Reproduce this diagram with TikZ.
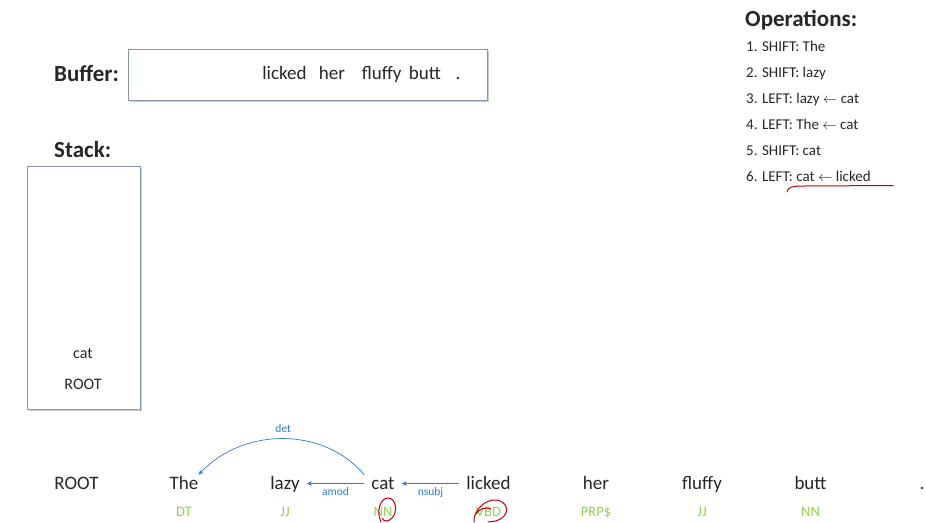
\documentclass[tikz,border=0pt]{standalone}
\usepackage{fontspec}
\setmainfont{Carlito}
\usepackage{tikz}
\usetikzlibrary{arrows.meta,positioning,shadows}
\definecolor{inktext}{HTML}{262626}
\definecolor{arcblue}{HTML}{2E7BCF}
\definecolor{taggreen}{HTML}{92D050}
\definecolor{boxline}{HTML}{8497B0}
\definecolor{penred}{HTML}{C00000}

\begin{document}
\begin{tikzpicture}[x=1pt, y=-1pt,
	every node/.style={inner sep=0pt, text=inktext},
	heading/.style={anchor=base west, font=\bfseries\fontsize{23}{27}\selectfont},
	panel/.style={draw=boxline, fill=white, line width=0.8pt, anchor=north west,
		drop shadow={shadow xshift=1.5pt, shadow yshift=-1.5pt, opacity=.35, fill=black!60}},
	bufword/.style={anchor=base, font=\fontsize{19}{22}\selectfont},
	stackword/.style={anchor=base, font=\fontsize{16}{19}\selectfont},
	opline/.style={anchor=base west, font=\fontsize{15}{18}\selectfont},
	word/.style={anchor=base, font=\fontsize{19}{22}\selectfont,
		text height=14pt, text depth=3pt, inner xsep=7pt, inner ysep=0pt},
	tag/.style={anchor=base, font=\fontsize{14.5}{17}\selectfont, text=taggreen},
	arclabel/.style={font=\fontsize{11.5}{13}\selectfont, text=arcblue,
		text height=8pt, text depth=2pt},
	dep/.style={arcblue, line width=0.7pt, -{Stealth[length=5pt, width=4.5pt]}},
	pen/.style={penred, line width=1pt, line cap=round}]
	\useasboundingbox (0,0) rectangle (926,522);

	% buffer
	\node[heading] (bufferlabel) at (54,81) {Buffer:};
	\node[panel, minimum width=359pt, minimum height=51pt] (buffer) at (128,49) {};
	\foreach \w/\x [count=\i] in {licked/284.5, her/332, fluffy/381.7, butt/425, ./458}
		\node[bufword] (buf\i) at (\x,79) {\w};

	% stack
	\node[heading] (stacklabel) at (54,157) {Stack:};
	\node[panel, minimum width=113pt, minimum height=243pt] (stack) at (27,166) {};
	\node[stackword] (stackcat) at (83,358) {cat};
	\node[stackword] (stackroot) at (83,389) {ROOT};

	% operations
	\node[heading] (opslabel) at (745,26) {Operations:};
	\foreach \op [count=\i] in {SHIFT: The, SHIFT: lazy, LEFT: lazy $\leftarrow$ cat,
			LEFT: The $\leftarrow$ cat, SHIFT: cat, LEFT: cat $\leftarrow$ licked}
		\node[opline] (op\i) at (746,25+26*\i) {\i. \op};

	% sentence and tags
	\foreach \n/\w/\x in {root/ROOT/76.5, the/The/184, lazy/lazy/285, cat/cat/383,
			licked/licked/488.5, her/her/596, fluffy/fluffy/702, butt/butt/810.5, stop/./922}
		\node[word] (\n) at (\x,489) {\w};
	\foreach \n/\t in {the/DT, lazy/JJ, cat/NN, licked/VBD, her/PRP\$, fluffy/JJ, butt/NN}
		\node[tag] (tag-\n) at (\n.base |- 0,516) {\t};

	% arcs
	\draw[dep] (cat.north west) .. controls +(-40,-48) and +(45,-48) .. ([xshift=-7pt]the.north east)
		node[arclabel, pos=.5, above=4pt] (detlabel) {det};
	\draw[dep] (cat.west) -- (lazy.east) node[arclabel, midway, below=4pt] (amodlabel) {amod};
	\draw[dep] (licked.west) -- (cat.east) node[arclabel, midway, below=4pt] (nsubjlabel) {nsubj};

	% pen marks
	\draw[pen] (787,192) .. controls (788,187) and (792,186) .. (805,186) -- (893,185.5);
	\draw[pen] (381,522) .. controls (376,512) and (380,498) .. (388,498)
		.. controls (396,498) and (398,512) .. (392,518) .. controls (388,522) and (384,522) .. (382,518);
	\draw[pen] (476,514) .. controls (480,508) and (486,507) .. (491,509);
	\draw[pen] (474,522) .. controls (473,510) and (486,499) .. (496,500)
		.. controls (507,501) and (510,512) .. (502,518) .. controls (498,521) and (492,522) .. (488,522);
\end{tikzpicture}
\end{document}
